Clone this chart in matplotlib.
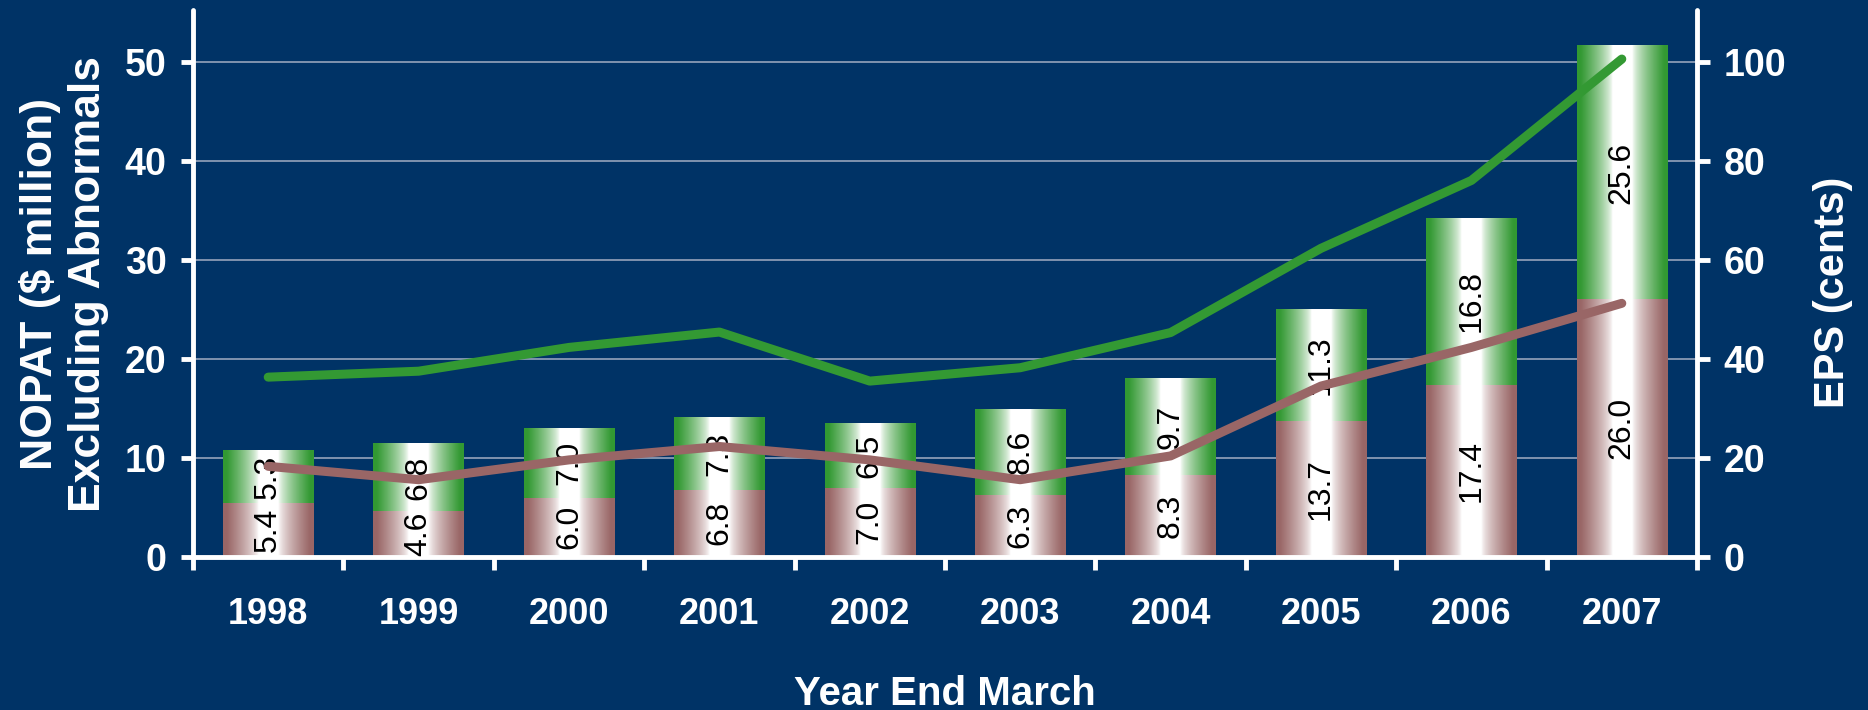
import numpy as np
import matplotlib
matplotlib.use('Agg')
import matplotlib.pyplot as plt
from matplotlib.colors import to_rgb

# data
years = ['1998', '1999', '2000', '2001', '2002', '2003', '2004', '2005', '2006', '2007']
nopat_lower = [5.4, 4.6, 6.0, 6.8, 7.0, 6.3, 8.3, 13.7, 17.4, 26.0]
nopat_upper = [5.3, 6.8, 7.0, 7.3, 6.5, 8.6, 9.7, 11.3, 16.8, 25.6]
eps_green = [36.3, 37.5, 42.3, 45.4, 35.5, 38.2, 45.3, 62.3, 76.0, 100.5]
eps_brown = [18.3, 15.6, 19.6, 22.3, 19.6, 15.6, 20.4, 34.5, 42.3, 51.2]

BG = '#003366'
GREEN = '#339933'
BROWN = '#996666'
GRID = '#a3adc2'

plt.rcParams['font.family'] = ['Liberation Sans', 'DejaVu Sans']
plt.rcParams['font.weight'] = 'bold'


def gradient(color, n=256):
    # colour at the edges, white in the middle
    t = np.linspace(0, 1, n)
    w = np.clip((np.abs(2 * t - 1) - 0.22) / 0.7, 0, 1) ** 0.7
    c = np.array(to_rgb(color))
    rgb = 1 - w[:, None] * (1 - c)
    return rgb[None, :, :]


fig = plt.figure(figsize=(18.68, 7.10), dpi=100, facecolor=BG)
ax = fig.add_axes([193 / 1868, 153 / 710, (1697 - 193) / 1868, (557 - 10) / 710])
ax.set_facecolor(BG)

x = np.arange(len(years))
low = ax.bar(x, nopat_lower, width=0.6, color='none', zorder=2)
high = ax.bar(x, nopat_upper, bottom=nopat_lower, width=0.6, color='none', zorder=2)
for bars, col in [(low, BROWN), (high, GREEN)]:
    g = gradient(col)
    for b in bars:
        x0, y0 = b.get_x(), b.get_y()
        ax.imshow(g, extent=[x0, x0 + b.get_width(), y0, y0 + b.get_height()],
                  aspect='auto', zorder=2, interpolation='bilinear')

for bars, vals in [(low, nopat_lower), (high, nopat_upper)]:
    ax.bar_label(bars, labels=[f'{v:.1f}' for v in vals], label_type='center',
                 rotation=90, fontsize=23, fontweight='normal', color='black')

ax.set_xlim(-0.5, 9.5)
ax.set_ylim(0, 55.2)
ax.set_yticks(range(0, 51, 10))
ax.yaxis.grid(True, color=GRID, lw=1.1)
ax.set_axisbelow(True)

ax.set_xticks(x, years)
ax.set_xticks(np.arange(-0.5, 10, 1), minor=True)
ax.tick_params(axis='x', which='major', length=0, pad=29, labelsize=26, labelcolor='white')
ax.tick_params(axis='x', which='minor', length=9, width=3.5, color='white')
ax.tick_params(axis='y', length=9, width=3.5, color='white', labelcolor='white',
               labelsize=27, pad=10)

for s in ['top', 'right']:
    ax.spines[s].set_visible(False)
for s in ['left', 'bottom']:
    ax.spines[s].set_color('white')
    ax.spines[s].set_linewidth(3.5)
    ax.spines[s].set_capstyle('round')

ax2 = ax.twinx()
ax2.plot(x, eps_green, color=GREEN, lw=6.5, solid_capstyle='round')
ax2.plot(x, eps_brown, color=BROWN, lw=6.5, solid_capstyle='round')
ax2.set_ylim(0, 110.4)
ax2.set_yticks(range(0, 101, 20))
ax2.tick_params(axis='y', length=9, width=3.5, color='white', labelcolor='white',
                labelsize=27, pad=10)
for s in ['top', 'left', 'bottom']:
    ax2.spines[s].set_visible(False)
ax2.spines['right'].set_color('white')
ax2.spines['right'].set_linewidth(3.5)
ax2.spines['right'].set_capstyle('round')

fig.text(64 / 1868, 1 - 284 / 710, 'NOPAT ($ million)\nExcluding Abnormals',
         rotation=90, ha='center', va='center', multialignment='center',
         fontsize=32, color='white')
fig.text(1833 / 1868, 1 - 292 / 710, 'EPS (cents)', rotation=90,
         ha='center', va='center', fontsize=30, color='white')
fig.text(945 / 1868, 5 / 710, 'Year End March', ha='center', va='baseline',
         fontsize=29, color='white')

fig.savefig('out.png', dpi=100, facecolor=BG)
